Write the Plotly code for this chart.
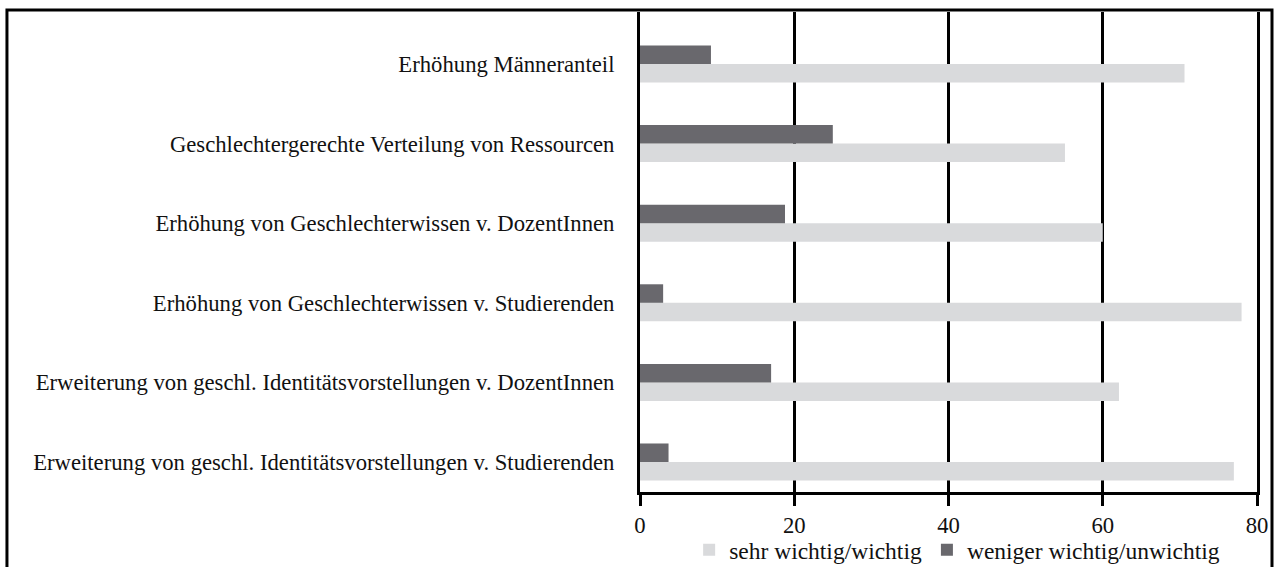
import plotly.graph_objects as go

categories = [
    "Erhöhung Männeranteil",
    "Geschlechtergerechte Verteilung von Ressourcen",
    "Erhöhung von Geschlechterwissen v. DozentInnen",
    "Erhöhung von Geschlechterwissen v. Studierenden",
    "Erweiterung von geschl. Identitätsvorstellungen v. DozentInnen",
    "Erweiterung von geschl. Identitätsvorstellungen v. Studierenden",
]
sehr_wichtig = [70.6, 55.1, 60.0, 78.0, 62.1, 77.0]
weniger_wichtig = [9.2, 25.0, 18.8, 3.0, 17.0, 3.7]
series_names = ["sehr wichtig/wichtig", "weniger wichtig/unwichtig"]
x_ticks = [0, 20, 40, 60, 80]

FONT = "Liberation Serif"
TXT = "#111111"

fig = go.Figure()
fig.add_trace(go.Bar(
    y=categories, x=sehr_wichtig, name=series_names[0], orientation="h",
    marker=dict(color="#d9dadc", line=dict(width=0)),
))
fig.add_trace(go.Bar(
    y=categories, x=weniger_wichtig, name=series_names[1], orientation="h",
    marker=dict(color="#69686d", line=dict(width=0)),
))

fig.update_layout(
    width=1277, height=567,
    margin=dict(l=640, r=20, t=12, b=75, autoexpand=False),
    paper_bgcolor="white", plot_bgcolor="white",
    barmode="group", bargap=0.535, bargroupgap=0,
    font=dict(family=FONT, size=22.7, color=TXT),
    showlegend=True,
    legend=dict(orientation="h", x=0.514, xanchor="center", y=-0.075, yanchor="top",
                font=dict(family=FONT, size=23.5, color=TXT),
                bgcolor="rgba(0,0,0,0)", itemwidth=30, tracegroupgap=0),
    xaxis=dict(
        range=[0, 80], tickvals=x_ticks, ticktext=[str(v) for v in x_ticks],
        showgrid=True, gridcolor="black", gridwidth=2.5,
        zeroline=False, showline=True, linecolor="black", linewidth=3,
        ticks="outside", ticklen=11, tickwidth=2.5, tickcolor="black",
        tickfont=dict(family=FONT, size=22.7, color=TXT),
        automargin=False,
    ),
    yaxis=dict(
        categoryorder="array", categoryarray=list(reversed(categories)),
        range=[-0.377, 5.653],
        showgrid=False, zeroline=False, showline=True, linecolor="black", linewidth=3,
        mirror=True,
        ticks="", ticklabelstandoff=18, automargin=False,
        tickfont=dict(family=FONT, size=22.7, color=TXT),
    ),
    shapes=[dict(type="rect", xref="paper", yref="paper",
                 x0=-1.026, x1=1.0243, y0=-0.2, y1=1.004,
                 line=dict(color="black", width=3), fillcolor="rgba(0,0,0,0)", layer="above")],
)

fig.write_html("out.html", config={"displayModeBar": False},
               post_script="document.body.style.margin='0';")
